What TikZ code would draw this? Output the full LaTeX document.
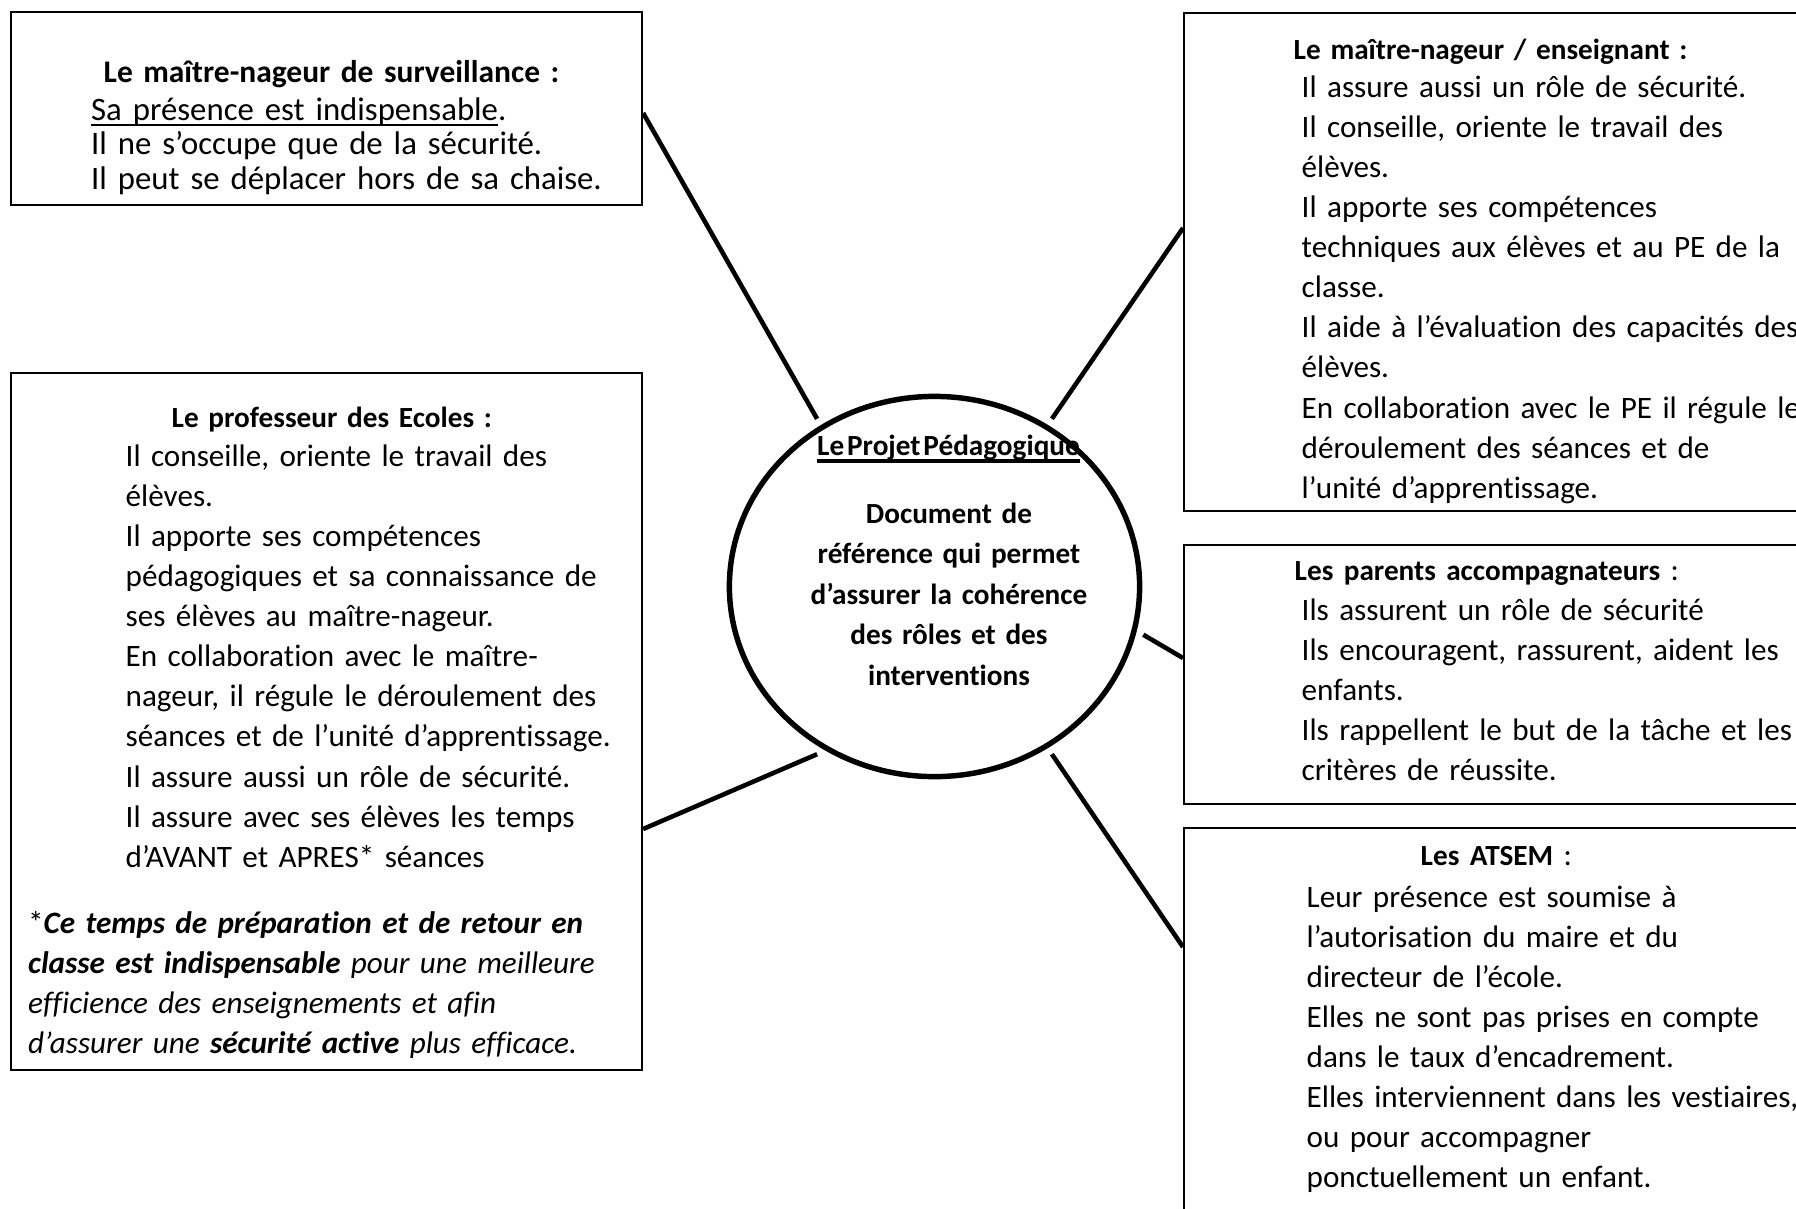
\documentclass[tikz,border=0pt]{standalone}
\usepackage{fontspec}
\setmainfont{Carlito}[Ligatures={TeX,NoCommon}]
\usetikzlibrary{calc,shapes.geometric}
\def\ulthin#1{\setbox0\hbox{#1}\rlap{\rule[-1.6pt]{\wd0}{0.5pt}}\box0}
\def\ulthick#1{\setbox0\hbox{#1}\rlap{\rule[-2.2pt]{\wd0}{1.1pt}}\box0}
\def\bodysize{\fontsize{8.86pt}{11.41pt}\selectfont}
\def\headsize{\fontsize{8.31pt}{11.41pt}\selectfont\bfseries}
\def\survsize{\fontsize{9.32pt}{9.82pt}\selectfont}
\def\circsize{\fontsize{8.31pt}{11.52pt}\selectfont}

\begin{document}
\begin{tikzpicture}[x=0.01cm, y=-0.01cm,
		box/.style={draw, line width=0.5pt, inner sep=0pt, anchor=north west},
		txt/.style={anchor=base west, inner sep=0pt, text width=6cm, align=left, font=\bodysize},
		link/.style={line width=1.3pt}]
		%%%%% START %%%%%
		
		\useasboundingbox (0, 0) rectangle (1796, 1208);
		
		% the five boxes
		\node[box, minimum width=6.31cm, minimum height=1.93cm] (surv) at (10, 11) {};
		\node[box, minimum width=6.31cm, minimum height=6.97cm] (prof) at (10, 372) {};
		\node[box, minimum width=6.40cm, minimum height=4.98cm] (ens) at (1183, 12) {};
		\node[box, minimum width=6.40cm, minimum height=2.59cm] (par) at (1183, 544) {};
		\node[box, minimum width=6.40cm, minimum height=4.20cm] (atsem) at (1183, 827) {};
		
		% the centre
		\node[draw, ellipse, line width=1.55pt, minimum width=4.10cm, minimum height=3.80cm, inner sep=0pt, outer sep=0.1cm] (proj) at (934.5, 586.5) {};
		\node[anchor=base, inner sep=0pt, font=\circsize\bfseries] (projtitle) at (948.5, 455) {\ulthick{Le\hspace{0.1em}Projet\hspace{0.1em}Pédagogique}};
		\node[anchor=base, inner sep=0pt, text width=3.6cm, align=center, font=\circsize\bfseries] (projtext) at (949, 523) {Document de\\ référence qui permet\\ d’assurer la cohérence\\ des rôles et des\\ interventions};
		
		\draw[link] (proj.125) -- ($(surv.north east)+(0, 102)$);
		\draw[link] (proj.55) -- ($(ens.north west)+(0, 216)$);
		\draw[link] (proj.-13) -- ($(par.north west)+(0, 114)$);
		\draw[link] (proj.-55) -- ($(atsem.north west)+(0, 120)$);
		\draw[link] (proj.-125) -- ($(prof.north east)+(0, 457)$);
		
		% maitre-nageur de surveillance
		\node[txt, font=\fontsize{8.95pt}{9.82pt}\selectfont\bfseries] (survhead) at (103, 82.5) {Le maître-nageur de surveillance :};
		\node[txt, font=\survsize] (survbody) at (90.5, 120) {\ulthin{Sa présence est indispensable}.\\ Il ne s’occupe que de la sécurité.\\ Il peut se déplacer hors de sa chaise.};
		
		% professeur des ecoles
		\node[txt, font=\headsize] (profhead) at (171, 427) {Le professeur des Ecoles :};
		\node[txt] (profbody) at (125, 466) {Il conseille, oriente le travail des\\ élèves.\\ Il apporte ses compétences\\ pédagogiques et sa connaissance de\\ ses élèves au maître-nageur.\\ En collaboration avec le maître-\\ nageur, il régule le déroulement des\\ séances et de l’unité d’apprentissage.\\ Il assure aussi un rôle de sécurité.\\ Il assure avec ses élèves les temps\\ d’AVANT et APRES* séances};
		\node[txt, font=\bodysize\itshape] (profnote) at (27.5, 933) {\upshape*\itshape\textbf{Ce temps de préparation et de retour en}\\ \textbf{classe est indispensable} pour une meilleure\\ efficience des enseignements et afin\\ d’assurer une \textbf{sécurité active} plus efficace.};
		
		% maitre-nageur enseignant
		\node[txt, font=\headsize] (enshead) at (1293, 59) {Le maître-nageur / enseignant :};
		\node[txt] (ensbody) at (1301, 97) {Il assure aussi un rôle de sécurité.\\ Il conseille, oriente le travail des\\ élèves.\\ Il apporte ses compétences\\ techniques aux élèves et au PE de la\\ classe.\\ Il aide à l’évaluation des capacités des\\ élèves.\\ En collaboration avec le PE il régule le\\ déroulement des séances et de\\ l’unité d’apprentissage.};
		
		% parents
		\node[txt] (parhead) at (1294, 580) {{\headsize Les parents accompagnateurs} :};
		\node[txt] (parbody) at (1301, 620) {Ils assurent un rôle de sécurité\\ Ils encouragent, rassurent, aident les\\ enfants.\\ Ils rappellent le but de la tâche et les\\ critères de réussite.};
		
		% atsem
		\node[txt] (atsemhead) at (1420, 865) {{\headsize Les ATSEM} :};
		\node[txt] (atsembody) at (1306, 907) {Leur présence est soumise à\\ l’autorisation du maire et du\\ directeur de l’école.\\ Elles ne sont pas prises en compte\\ dans le taux d’encadrement.\\ Elles interviennent dans les vestiaires,\\ ou pour accompagner\\ ponctuellement un enfant.};
		
		%%%%% END %%%%%
	\end{tikzpicture}
\end{document}
